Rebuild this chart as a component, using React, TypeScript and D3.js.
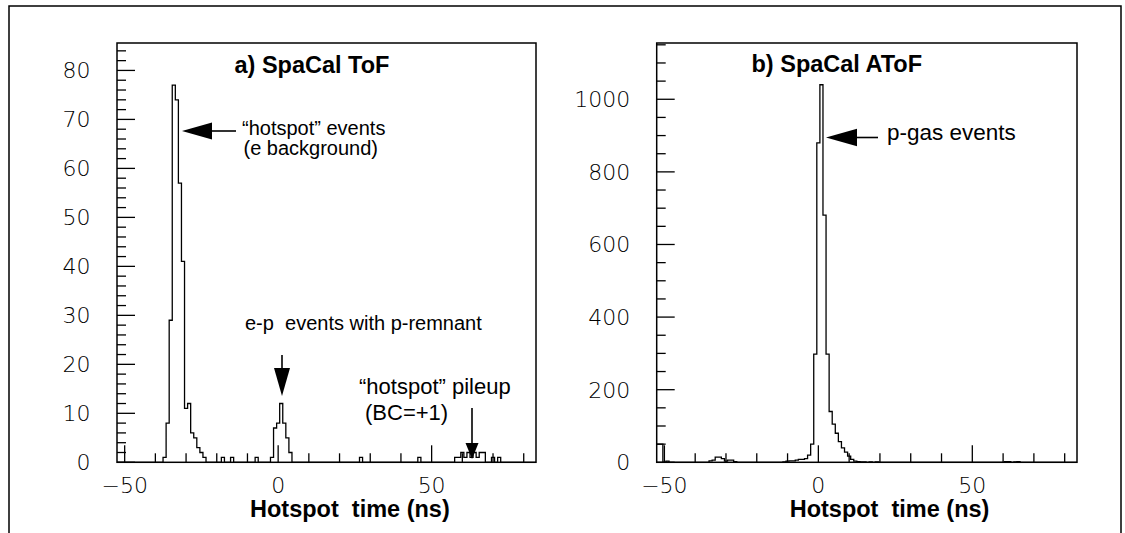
import React from "react";
import * as d3 from "d3";

// Hotspot time axis (ns), 1 ns bins centred on integers
const X_DOMAIN: [number, number] = [-52.5, 84];
const X_MAJOR = [-50, 0, 50];
const X_MINOR = [-40, -30, -20, -10, 10, 20, 30, 40, 60, 70, 80];

// a) SpaCal ToF — non-empty bins
const tofCenters = [
  -37, -36, -35, -34, -33, -32, -31, -30, -29, -28, -27, -26, -25, -24,
  -18, -15, -7,
  -2, -1, 0, 1, 2, 3, 4,
  27, 46,
  58, 59, 60, 61, 62, 63, 64, 65, 66, 67, 70, 72,
];
const tofCounts = [
  1, 8, 29, 77, 74, 57, 41, 11, 12, 6, 5, 3, 2, 1,
  1, 1, 1,
  1, 7, 8, 12, 8, 5, 2,
  1, 1,
  1, 1, 2, 1, 2, 1, 2, 1, 2, 2, 1, 1,
];
const tofYMax = 85.6;
const tofYLabels = [0, 10, 20, 30, 40, 50, 60, 70, 80];
const tofYMinorStep = 2;

// b) SpaCal AToF — non-empty bins
const atofCenters = [
  -52, -51, -49,
  -35, -34, -33, -32, -31, -30, -29, -28, -27,
  -11, -10, -9, -8, -7, -6, -5, -4, -3, -2, -1,
  0, 1, 2, 3, 4, 5, 6, 7, 8, 9, 10, 11, 12, 13, 14, 15, 17, 19,
  61, 62, 64, 65,
];
const atofCounts = [
  50, 50, 3,
  4, 6, 14, 14, 10, 3, 6, 6, 2,
  1, 3, 4, 4, 6, 8, 8, 10, 20, 50, 298,
  880, 1040, 681, 298, 140, 105, 80, 57, 40, 28, 17, 8, 3, 2, 1, 1, 1, 1,
  2, 2, 1, 2,
];
const atofYMax = 1155;
const atofYLabels = [0, 200, 400, 600, 800, 1000];
const atofYMinorStep = 50;

const W = 1125;
const H = 533;
const NUM_FONT = "'DejaVu Sans', sans-serif";
const TXT_FONT = "'Liberation Sans', Arial, Helvetica, sans-serif";

type Frame = { x0: number; x1: number; y0: number; y1: number };

function histPath(
  centers: number[],
  counts: number[],
  x: d3.ScaleLinear<number, number>,
  y: d3.ScaleLinear<number, number>
) {
  const byBin = new Map<number, number>();
  centers.forEach((c, i) => byBin.set(c, counts[i]));
  const lo = Math.ceil(X_DOMAIN[0]);
  const hi = Math.ceil(X_DOMAIN[1]);
  const pts: [number, number][] = [];
  for (let c = lo; c <= hi; c++) pts.push([c - 0.5, byBin.get(c) ?? 0]);
  pts.push([hi + 0.5, byBin.get(hi) ?? 0]);
  const line = d3
    .line<[number, number]>()
    .x((d) => x(d[0]))
    .y((d) => y(d[1]))
    .curve(d3.curveStepAfter);
  return line(pts) ?? "";
}

function Panel(props: {
  id: string;
  frame: Frame;
  yMax: number;
  yLabels: number[];
  yMinorStep: number;
  centers: number[];
  counts: number[];
}) {
  const { id, frame, yMax, yLabels, yMinorStep, centers, counts } = props;
  const x = d3.scaleLinear().domain(X_DOMAIN).range([frame.x0, frame.x1]);
  const y = d3.scaleLinear().domain([0, yMax]).range([frame.y1, frame.y0]);
  const yMinor = d3.range(0, yMax, yMinorStep).filter((v) => !yLabels.includes(v));
  const path = histPath(centers, counts, x, y);
  return (
    <g>
      <defs>
        <clipPath id={id}>
          <rect x={frame.x0} y={frame.y0} width={frame.x1 - frame.x0} height={frame.y1 - frame.y0} />
        </clipPath>
      </defs>
      <path d={path} fill="none" stroke="#000" strokeWidth={1.3} clipPath={`url(#${id})`} />
      {/* y ticks */}
      {yLabels.map((v) => (
        <line key={`ym${v}`} x1={frame.x0} x2={frame.x0 + 18} y1={y(v)} y2={y(v)} stroke="#000" strokeWidth={1.3} />
      ))}
      {yMinor.map((v) => (
        <line key={`yn${v}`} x1={frame.x0} x2={frame.x0 + 9} y1={y(v)} y2={y(v)} stroke="#000" strokeWidth={1.3} />
      ))}
      {yLabels.map((v) => (
        <text
          key={`yl${v}`}
          x={frame.x0 - 26.5}
          y={y(v) + 8}
          textAnchor="end"
          fontFamily={NUM_FONT}
          fontWeight={200}
          fontSize={22}
          fill="#000"
        >
          {v}
        </text>
      ))}
      {/* x ticks */}
      {X_MAJOR.map((v) => (
        <line key={`xm${v}`} x1={x(v)} x2={x(v)} y1={frame.y1} y2={frame.y1 - 17} stroke="#000" strokeWidth={1.3} />
      ))}
      {X_MINOR.map((v) => (
        <line key={`xn${v}`} x1={x(v)} x2={x(v)} y1={frame.y1} y2={frame.y1 - 9} stroke="#000" strokeWidth={1.3} />
      ))}
      {X_MAJOR.map((v) => (
        <text
          key={`xl${v}`}
          x={x(v)}
          y={493}
          textAnchor="middle"
          fontFamily={NUM_FONT}
          fontWeight={200}
          fontSize={22}
          fill="#000"
        >
          {v < 0 ? `\u2212${Math.abs(v)}` : v}
        </text>
      ))}
      <rect
        x={frame.x0}
        y={frame.y0}
        width={frame.x1 - frame.x0}
        height={frame.y1 - frame.y0}
        fill="none"
        stroke="#000"
        strokeWidth={1.5}
      />
      <text
        x={frame.x0 + 133}
        y={517}
        fontFamily={TXT_FONT}
        fontWeight="bold"
        fontSize={23.5}
        style={{ whiteSpace: "pre" }}
      >
        {"Hotspot  time (ns)"}
      </text>
    </g>
  );
}

function ArrowLeft({ tipX, y, baseX, endX, half }: { tipX: number; y: number; baseX: number; endX: number; half: number }) {
  return (
    <g>
      <line x1={baseX - 1} x2={endX} y1={y} y2={y} stroke="#000" strokeWidth={1.6} />
      <path d={`M${tipX},${y}L${baseX},${y - half}L${baseX},${y + half}Z`} fill="#000" />
    </g>
  );
}

function ArrowDown({ x, topY, baseY, tipY, half }: { x: number; topY: number; baseY: number; tipY: number; half: number }) {
  return (
    <g>
      <line x1={x} x2={x} y1={topY} y2={baseY + 1} stroke="#000" strokeWidth={1.6} />
      <path d={`M${x - half},${baseY}L${x + half},${baseY}L${x},${tipY}Z`} fill="#000" />
    </g>
  );
}

export default function App() {
  const left: Frame = { x0: 117, x1: 536, y0: 43, y1: 462.3 };
  const right: Frame = { x0: 656.7, x1: 1077, y0: 43, y1: 462.3 };
  return (
    <svg
      width={W}
      height={H}
      viewBox={`0 0 ${W} ${H}`}
      style={{ position: "absolute", left: 0, top: 0, background: "#fff" }}
    >
      <rect x={0} y={0} width={W} height={H} fill="#fff" />
      {/* outer page border */}
      <path d={`M9,${H + 2}V6H1121V${H + 2}`} fill="none" stroke="#000" strokeWidth={1.5} />

      <Panel
        id="clip-tof"
        frame={left}
        yMax={tofYMax}
        yLabels={tofYLabels}
        yMinorStep={tofYMinorStep}
        centers={tofCenters}
        counts={tofCounts}
      />
      <Panel
        id="clip-atof"
        frame={right}
        yMax={atofYMax}
        yLabels={atofYLabels}
        yMinorStep={atofYMinorStep}
        centers={atofCenters}
        counts={atofCounts}
      />

      {/* panel titles */}
      <text x={234.5} y={73} fontFamily={TXT_FONT} fontWeight="bold" fontSize={23.5}>
        a) SpaCal ToF
      </text>
      <text x={751.5} y={72} fontFamily={TXT_FONT} fontWeight="bold" fontSize={23.5}>
        b) SpaCal AToF
      </text>

      {/* annotations, panel a */}
      <ArrowLeft tipX={182} y={131} baseX={212} endX={236} half={8.5} />
      <text x={242} y={135} fontFamily={TXT_FONT} fontSize={20}>
        {"\u201Chotspot\u201D events"}
      </text>
      <text x={243.5} y={155} fontFamily={TXT_FONT} fontSize={20}>
        (e background)
      </text>

      <text x={245} y={330} fontFamily={TXT_FONT} fontSize={20} style={{ whiteSpace: "pre" }}>
        {"e-p  events with p-remnant"}
      </text>
      <ArrowDown x={282} topY={355} baseY={368} tipY={396} half={8} />

      <text x={359} y={394} fontFamily={TXT_FONT} fontSize={22}>
        {"\u201Chotspot\u201D pileup"}
      </text>
      <text x={365} y={420} fontFamily={TXT_FONT} fontSize={22}>
        (BC=+1)
      </text>
      <ArrowDown x={472} topY={408} baseY={443} tipY={459} half={6.5} />

      {/* annotations, panel b */}
      <ArrowLeft tipX={826} y={137.5} baseX={857} endX={878} half={8.7} />
      <text x={887} y={140} fontFamily={TXT_FONT} fontSize={22.5}>
        p-gas events
      </text>
    </svg>
  );
}
